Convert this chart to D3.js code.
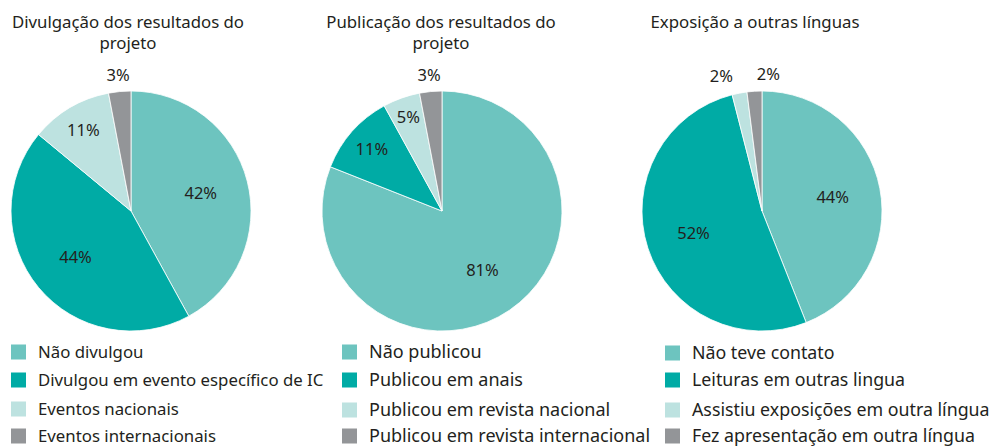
<!DOCTYPE html>
<html><head><meta charset="utf-8">
<script src="https://cdn.jsdelivr.net/npm/d3@7"></script>
<style>body{margin:0;background:#fff}svg{display:block}</style>
</head><body>
<svg id="c" width="991" height="447"></svg>
<script>
const titles = [["Divulgação dos resultados do","projeto"],["Publicação dos resultados do","projeto"],["Exposição a outras línguas"]];
const cats1 = ["Não divulgou","Divulgou em evento específico de IC","Eventos nacionais","Eventos internacionais"];
const cats2 = ["Não publicou","Publicou em anais","Publicou em revista nacional","Publicou em revista internacional"];
const cats3 = ["Não teve contato","Leituras em outras lingua","Assistiu exposições em outra língua","Fez apresentação em outra língua"];
const vals1 = [42,44,11,3];
const vals2 = [81,11,5,3];
const vals3 = [44,52,2,2];
const colors = ["#6dc4bf","#00aba5","#bde2e0","#939598"];

const charts = [
  {title:titles[0], cats:cats1, vals:vals1},
  {title:titles[1], cats:cats2, vals:vals2},
  {title:titles[2], cats:cats3, vals:vals3}
];
const svg = d3.select("#c");
const font = "'Noto Sans', sans-serif";
const R = 120;
const centersX = [131,442,762];
const cy = 211;
const legendX = [11,342,665];
const legendFont = [16.8,18,17.8];
const legendRows = [[352,380,409,436],[352,380,410,436],[353,380,410,436]];
const titleX = [128,441,755];

const pie = d3.pie().sort(null).value(d=>d);
const arc = d3.arc().innerRadius(0).outerRadius(R);

charts.forEach((ch,i)=>{
  const cx = centersX[i];
  const g = svg.append("g").attr("transform",`translate(${cx},${cy})`);
  const arcs = pie(ch.vals);
  g.selectAll("path").data(arcs).join("path")
    .attr("d",arc).attr("fill",(d,j)=>colors[j])
    .attr("stroke","#fff").attr("stroke-width",0.8);
  const labels = arcs.map(a=>{
    const m = (a.startAngle+a.endAngle)/2;
    const v = a.data;
    let f = v>=30?0.6:(v>=10?0.78:(v>=5?0.83:1.14));
    return {x:Math.sin(m)*R*f, y:-Math.cos(m)*R*f, t:v+"%", outer:v<5};
  });
  const outer = labels.filter(l=>l.outer).sort((a,b)=>a.x-b.x);
  if(outer.length>1){
    const mean = d3.mean(outer,l=>l.x);
    const gap = 47;
    outer.forEach((l,k)=>{ l.x = mean + (k-(outer.length-1)/2)*gap; });
  }
  g.selectAll("text.lab").data(labels).join("text").attr("class","lab")
    .attr("x",d=>d.x).attr("y",d=>d.y).attr("dy","0.35em")
    .attr("text-anchor","middle").attr("font-family",font).attr("font-size",16.5)
    .attr("fill","#231f20").text(d=>d.t);
  const tt = svg.append("text").attr("x",titleX[i]).attr("y",28)
    .attr("text-anchor","middle").attr("font-family",font).attr("font-size",16.8).attr("fill","#231f20");
  ch.title.forEach((s,k)=>tt.append("tspan").attr("x",titleX[i]).attr("dy",k?21:0).text(s));
  const lg = svg.append("g");
  ch.cats.forEach((c,k)=>{
    const y = legendRows[i][k];
    lg.append("rect").attr("x",legendX[i]).attr("y",y-7.5).attr("width",15).attr("height",15).attr("fill",colors[k]);
    lg.append("text").attr("x",legendX[i]+27).attr("y",y).attr("dy","0.35em")
      .attr("font-family",font).attr("font-size",legendFont[i]).attr("fill","#231f20").text(c);
  });
});
</script>
</body></html>
